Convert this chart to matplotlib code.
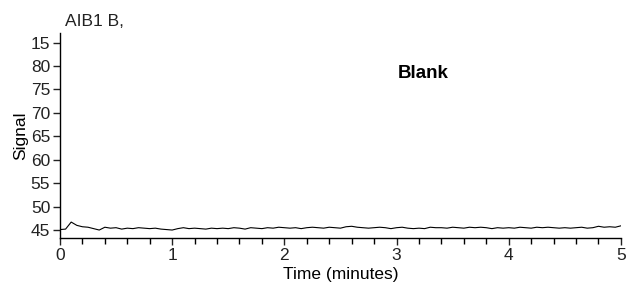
import numpy as np
import matplotlib
matplotlib.use("Agg")
import matplotlib.pyplot as plt
from matplotlib.ticker import MultipleLocator

# chromatogram trace, every 0.05 min
time_min = [round(0.05 * i, 2) for i in range(101)]
signal = [
    45.1, 45.2, 46.7, 46.0, 45.7, 45.6, 45.3, 45.0, 45.6, 45.4,
    45.5, 45.2, 45.4, 45.3, 45.5, 45.4, 45.3, 45.4, 45.2, 45.1,
    45.0, 45.3, 45.5, 45.3, 45.4, 45.3, 45.2, 45.4, 45.3, 45.4,
    45.3, 45.5, 45.4, 45.2, 45.5, 45.4, 45.3, 45.5, 45.4, 45.6,
    45.5, 45.4, 45.5, 45.3, 45.5, 45.6, 45.5, 45.4, 45.6, 45.5,
    45.4, 45.7, 45.8, 45.6, 45.5, 45.4, 45.5, 45.6, 45.5, 45.3,
    45.5, 45.6, 45.4, 45.3, 45.4, 45.3, 45.6, 45.5, 45.5, 45.4,
    45.6, 45.5, 45.4, 45.6, 45.5, 45.6, 45.5, 45.3, 45.5, 45.4,
    45.5, 45.4, 45.6, 45.5, 45.4, 45.6, 45.5, 45.6, 45.5, 45.4,
    45.5, 45.4, 45.5, 45.6, 45.4, 45.5, 45.8, 45.6, 45.7, 45.6,
    45.9,
]

ytick_vals = [45, 50, 55, 60, 65, 70, 75, 80, 85]
ytick_labels = ["45", "50", "55", "60", "65", "70", "75", "80", "15"]
xtick_vals = [0, 1, 2, 3, 4, 5]

plt.rcParams['font.family'] = ['Liberation Sans', 'DejaVu Sans']
plt.rcParams['font.size'] = 12.5

fig = plt.figure(figsize=(6.36, 2.93), dpi=100)
ax = fig.add_axes([0.0943, 0.1877, 0.882, 0.699])

ax.plot(time_min, signal, color="black", lw=0.8)

ax.set_xlim(0, 5)
ax.set_ylim(43.3, 87)
ax.set_xticks(xtick_vals)
ax.xaxis.set_minor_locator(MultipleLocator(0.2))
ax.set_yticks(ytick_vals)
ax.set_yticklabels(ytick_labels)

for s in ["top", "right"]:
    ax.spines[s].set_visible(False)
for s in ["left", "bottom"]:
    ax.spines[s].set_linewidth(1.0)

ax.tick_params(axis="both", which="major", length=5, width=1, pad=2,
               colors="#222222", labelcolor="#222222")
ax.tick_params(axis="x", which="minor", length=4, width=1)

ax.set_xlabel("Time (minutes)", labelpad=3)
ax.set_ylabel("Signal", labelpad=2)

fig.text(0.102, 0.925, "AIB1 B,", fontsize=12.5, ha="left", va="center", color="#222222")
ax.text(3.01, 78.3, "Blank", fontsize=13.5, fontweight="bold", ha="left", va="center")

fig.savefig("out.png", dpi=100)
